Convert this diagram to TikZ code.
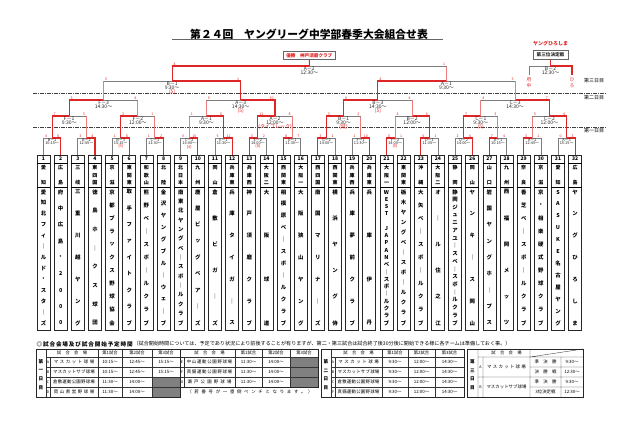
\documentclass[tikz,border=0pt]{standalone}
\usepackage{fontspec}
\setmainfont{Noto Sans CJK JP}
\usetikzlibrary{positioning,calc}
\definecolor{winred}{RGB}{222,38,38}
\definecolor{palered}{RGB}{236,125,125}
\definecolor{losegray}{RGB}{125,125,125}
\newcommand{\fs}[1]{\fontsize{#1}{#1}\selectfont}

\ExplSyntaxOn
\int_new:N \l_vt_n_int
\int_new:N \l_vt_i_int
\tl_new:N \l_vt_s_tl
\tl_new:N \l_vt_y_tl
% vertical text, chars spread evenly from top y over span
\NewDocumentCommand \vtext { O{namech} m m m m m }
  {
    \tl_set:Nx \l_vt_s_tl {#6}
    \int_set:Nn \l_vt_n_int { \tl_count:N \l_vt_s_tl }
    \int_zero:N \l_vt_i_int
    \tl_map_inline:Nn \l_vt_s_tl
      {
        \tl_set:Nx \l_vt_y_tl
          { \fp_eval:n { #4 + \int_use:N \l_vt_i_int * (#5) / (\int_use:N \l_vt_n_int - 1) } }
        \int_incr:N \l_vt_i_int
        \node [#1] (#2 - \int_use:N \l_vt_i_int) at (#3, \l_vt_y_tl) {##1};
      }
  }
\NewDocumentCommand \spread { m m }
  {
    \tl_set:Nx \l_vt_s_tl {#2}
    \hbox_to_wd:nn {#1} { \tl_map_inline:Nn \l_vt_s_tl { \hfil ##1 \hfil } }
  }
\ExplSyntaxOff

% one game: left child, right child, centre, winner side, loser line, scores
\newcommand{\bout}[7]{%
  \if L#4
    \draw[#5] (#2) -- (#2 |- #3);
    \draw[lose] (#2 |- #3) -- (#3);
    \draw[win] (#1) |- (#3);
  \else
    \draw[#5] (#1) -- (#1 |- #3);
    \draw[lose] (#1 |- #3) -- (#3);
    \draw[win] (#2) |- (#3);
  \fi
  \path (#1 |- #3) node[score, anchor=south west, xshift=1pt] (s-#3-l) {#6}
        (#2 |- #3) node[score, anchor=south east, xshift=-1pt] (s-#3-r) {#7};}
\newcommand{\blabel}[4]{%
  \node[#4, below=0.2pt of #1] (c-#1) {#2};
  \node[#4, below=-0.6pt of c-#1] (m-#1) {#3};}

\tikzset{
  win/.style={draw=winred, line width=1.1pt},
  lose/.style={draw=losegray, line width=0.7pt},
  pale/.style={draw=palered, line width=1pt},
  score/.style={font=\fs{3.6}, text=winred, inner sep=0.3pt},
  lab1/.style={font=\fs{3.9}, inner sep=0.2pt, text=black!85},
  lab2/.style={font=\fs{5}, inner sep=0.2pt, text=black!85},
  tbox/.style={draw=black!85, line width=0.8pt, minimum width=13pt,
    minimum height=175pt, inner sep=0, anchor=north},
  tnum/.style={font=\fs{5}\bfseries, inner sep=0},
  namech/.style={font=\fs{5.4}\bfseries, inner sep=0},
  prefch/.style={font=\fs{5}\bfseries, inner sep=0},
  tpch/.style={font=\fs{4.8}, text=winred, inner sep=0},
  daych/.style={font=\fs{4.6}\bfseries, inner sep=0},
  dayline/.style={line width=0.9pt, black!75, dash pattern=on 4pt off 1pt on 1pt off 1pt},
  daylab/.style={font=\fs{5}, inner sep=0},
  champbox/.style={draw=black!60, line width=0.6pt, text=winred, font=\fs{4.6}\bfseries,
    minimum width=52pt, minimum height=8.5pt, inner sep=0.5pt},
  tthick/.style={line width=0.9pt, black!85},
  tthin/.style={line width=0.35pt, black!80},
  thead/.style={font=\fs{4.3}, inner sep=0},
  tcell/.style={font=\fs{4.4}, inner sep=0},
  tlet/.style={font=\fs{3.6}, inner sep=0},
}

\begin{document}
\begin{tikzpicture}[x=1pt,y=-1pt]
\useasboundingbox (0,0) rectangle (640,426);

\node[font=\fs{10.8}\bfseries, inner sep=0] (title) at (309,34) {第２４回　ヤングリーグ中学部春季大会組合せ表};
\draw[line width=1.3pt, black!60] (172,39.5) -- (443,39.5);

% teams
\foreach \i/\pf/\nm in {1/愛知/愛知北フィ｜ルド・スタ｜ズ, 2/広島/府中広島・2000,
  3/三岐/三重川越ヤング, 4/東四国/徳島ホ｜クス球団, 5/京滋/京都ブラックス野球協会,
  6/東関東/取手ファイトクラブ, 7/和歌山/熊野ベ｜スボ｜ルクラブ,
  8/北陸/金沢ヤングブル｜ウェ｜ブ, 9/北日本/南東北ヤングベ｜スボ｜ルクラブ,
  10/九州/鹿屋ビッグベア｜ズ, 11/岡山/倉敷ビガ｜ズ, 12/兵庫東/兵庫タイガ｜ス,
  13/兵庫西/神戸須磨クラブ, 14/大阪二/大阪球道, 15/西関東/相模原ベ｜スボ｜ルクラブ,
  16/大阪一/大阪狭山ヤング, 17/西四国/南国マリナ｜ズ, 18/西関東/横浜ヤング侍,
  19/兵庫西/兵庫夢前クラブ, 20/兵庫東/兵庫伊丹, 21/大阪一/WEST　JAPANベ｜スボ｜ルクラブ,
  22/東関東/栃木ヤングベ｜スボ｜ルクラブ, 23/沖縄/大矢ベ｜スボ｜ルクラブ,
  24/大阪二/オ｜ル住之江, 25/静岡/静岡ジュニアユ｜スベ｜スボ｜ルクラブ,
  26/岡山/ヤンキ｜ス岡山, 27/山口/岩国ヤングホ｜プス, 28/九州/西福岡メッツ,
  29/奈良/香芝ベ｜スボ｜ルクラブ, 30/京滋/京・相楽硬式野球クラブ,
  31/愛知/SASUKE名古屋ヤング, 32/広島/ヤングひろしま}{
  \pgfmathsetmacro\x{43.5+(\i-1)*17.15}
  \node[tbox] (t\i) at (\x,155) {};
  \draw[line width=0.5pt] ([yshift=-8pt]t\i.north west) -- ([yshift=-8pt]t\i.north east)
    ([yshift=-32pt]t\i.north west) -- ([yshift=-32pt]t\i.north east);
  \node[tnum] (no\i) at (\x,159) {\i};
  \vtext[prefch]{pf\i}{\x}{167.5}{15.5}{\pf}
  \vtext{nm\i}{\x}{192}{131}{\nm}
}

% day lines
\draw[dayline] (33,93) -- (607,93);
\draw[dayline] (33,127) -- (607,127);
\node[daylab] (day3) at (594,81) {第三日目};
\node[daylab] (day2) at (594,98) {第二日目};
\node[daylab] (day1) at (594,131) {第一日目};

% first round
\foreach \k/\w/\sl/\sr/\cd/\tm in {1/R/4/8/B－1/10:15～, 2/R/3/4/B－2/12:45～,
  3/R/1/8/B－3/15:15～, 4/R/1/2/C－1/11:30～, 5/R/0/10/C－2/14:00～, 6/R/5/11/E－1/11:30～,
  7/L/3/2/E－2/14:00～, 8/L/8/7/G－1/11:30～, 9/L/3/2/G－2/14:00～, 10/R/1/10/F－1/11:30～,
  11/L/8/1/F－2/14:00～, 12/L/6/1/D－1/11:30～, 13/R/2/4/D－2/14:00～, 14/L/7/4/A－1/10:15～,
  15/L/3/1/A－2/12:45～, 16/R/0/3/A－3/15:15～}{
  \pgfmathtruncatemacro\ka{2*\k-1}
  \pgfmathtruncatemacro\kb{2*\k}
  \path ($(t\ka.north)!.5!(t\kb.north)$) ++(0,-17) coordinate (r1-\k);
  \bout{t\ka.north}{t\kb.north}{r1-\k}{\w}{lose}{\sl}{\sr}
  \blabel{r1-\k}{\cd}{\tm}{lab1}
}
% second round
\foreach \k/\w/\sl/\sr/\cd/\tm in {1/L/7/3/F－1/9:30～, 2/L/3/1/F－2/12:00～,
  3/R/1/5/A－1/9:30～, 4/L/11/8/A－2/12:00～, 5/L/3/2/B－1/9:30～, 6/R/4/6/B－2/12:00～,
  7/L/7/3/C－1/9:30～, 8/R/3/4/C－2/12:00～}{
  \pgfmathtruncatemacro\ka{2*\k-1}
  \pgfmathtruncatemacro\kb{2*\k}
  \path ($(r1-\ka)!.5!(r1-\kb)$) ++(0,-22) coordinate (r2-\k);
  \bout{r1-\ka}{r1-\kb}{r2-\k}{\w}{pale}{\sl}{\sr}
  \blabel{r2-\k}{\cd}{\tm}{lab2}
}
% third round
\foreach \k/\w/\sl/\sr/\cd/\tm in {1/L/5/4/F－3/14:30～, 2/R/6/10/A－3/14:30～,
  3/L/6/4/B－3/14:30～, 4/R/4/7/C－3/14:30～}{
  \pgfmathtruncatemacro\ka{2*\k-1}
  \pgfmathtruncatemacro\kb{2*\k}
  \path ($(r2-\ka)!.5!(r2-\kb)$) ++(0,-16) coordinate (r3-\k);
  \bout{r2-\ka}{r2-\kb}{r3-\k}{\w}{pale}{\sl}{\sr}
  \blabel{r3-\k}{\cd}{\tm}{lab2}
}
% semi finals
\foreach \k/\w/\sl/\sr/\cd/\tm in {1/R/0/1/B－1/9:30～, 2/L/4/3/A－1/9:30～}{
  \pgfmathtruncatemacro\ka{2*\k-1}
  \pgfmathtruncatemacro\kb{2*\k}
  \path ($(r3-\ka)!.5!(r3-\kb)$) ++(0,-19) coordinate (r4-\k);
  \bout{r3-\ka}{r3-\kb}{r4-\k}{\w}{pale}{\sl}{\sr}
  \blabel{r4-\k}{\cd}{\tm}{lab2}
}
% final
\path ($(r4-1)!.5!(r4-2)$) ++(0,-15) coordinate (r5);
\bout{r4-1}{r4-2}{r5}{L}{pale}{4}{1}
\blabel{r5}{A－2}{12:30～}{lab2}
\node[champbox] (champ) at (309.3,55.5) {優勝　神戸須磨クラブ};
\draw[win] (r5) -- (champ);

% red notes under games
\node[lab1, text=winred, below=-0.6pt of m-r1-3] (x-r1-3) {(5)};
\node[lab1, text=winred, below=-0.6pt of m-r1-5] (x-r1-5) {(4)};
\node[lab1, text=winred, below=-0.6pt of m-r1-7] (x-r1-7) {(8)};
\node[lab1, text=winred, below=-0.6pt of m-r1-11] (x-r1-11) {(5)};
\node[lab2, text=winred, below=-0.6pt of m-r2-4] (x-r2-4) {(タイブレーク)};
\node[lab2, text=winred, below=-0.6pt of m-r2-5] (x-r2-5) {(延)};
\node[lab2, text=winred, below=-0.6pt of m-r2-7] (x-r2-7) {(5)};
\node[lab2, text=winred, below=-0.6pt of m-r3-2] (x-r3-2) {(5)};
\node[lab2, text=winred, below=-0.6pt of m-r3-3] (x-r3-3) {(5)};
\node[lab2, text=winred, below=-0.6pt of m-r4-1] (x-r4-1) {(5)};

% third place
\node[font=\fs{5}\bfseries, text=winred, inner sep=0] (thirdwin) at (550.5,43.5) {ヤングひろしま};
\node[champbox, text=black!85, minimum width=35pt] (third) at (550.5,55) {第三位決定戦};
\coordinate (tp) at (550.5,66);
\coordinate (tp-l) at (529,75);
\coordinate (tp-r) at (572,75);
\draw[lose] (tp-l) |- (tp);
\draw[win] (tp-r) |- (tp) -- (third);
\blabel{tp}{B－2}{12:30～}{lab2}
\vtext[tpch]{fu}{529}{80}{6}{府中}
\vtext[tpch]{hi}{572}{80}{6}{ひろ}

% venue tables
\node[font=\fs{5.6}\bfseries, anchor=west, inner sep=0] (hd1) at (36,344) {\spread{97pt}{◎試合会場及び試合開始予定時間}};
\node[font=\fs{5.1}, inner sep=0, right=0pt of hd1] (hd2) {（試合開始時間については、予定であり状況により前後することが有りますが、第二・第三試合は試合終了後30分後に開始できる様に各チームは準備しておく事。）};

\fill[black!50] (152,377) rectangle (180,397) (290,357) rectangle (318,387);
\draw[tthin] (46,357) -- (180,357) (46,367) -- (180,367) (46,377) -- (180,377) (46,387) -- (180,387)
  (46,349) -- (46,397) (50,357) -- (50,397) (98,349) -- (98,397) (122,349) -- (122,397) (152,349) -- (152,397);
\draw[tthick] (36,349) rectangle (180,397);
\draw[tthin] (180,357) -- (318,357) (180,367) -- (318,367) (180,377) -- (318,377)
  (184,357) -- (184,387) (235,349) -- (235,387) (262,349) -- (262,387) (290,349) -- (290,387);
\draw[tthick] (180,349) rectangle (318,387);
\draw[tthin] (331,357) -- (464,357) (331,367) -- (464,367) (331,377) -- (464,377) (331,387) -- (464,387)
  (331,349) -- (331,397) (335,357) -- (335,397) (382,349) -- (382,397) (408,349) -- (408,397) (435,349) -- (435,397);
\draw[tthick] (321,349) rectangle (464,397);
\draw[tthin] (478,357) -- (583,357) (478,377) -- (583,377) (530,367) -- (583,367) (530,387) -- (583,387)
  (478,349) -- (478,397) (483,357) -- (483,397) (530,349) -- (530,397) (561,357) -- (561,397) (530,357) -- (583,349);
\draw[tthick] (467,349) rectangle (583,397);

\foreach \c/\xx/\tx in {1/72/試　合　会　場, 2/110/第1試合, 3/137/第2試合, 4/166/第3試合,
  5/209.5/試　合　会　場, 6/248.5/第1試合, 7/276/第2試合, 8/304/第3試合,
  9/358.5/試　合　会　場, 10/395/第1試合, 11/421.5/第2試合, 12/449.5/第3試合, 13/506.5/試　合　会　場}
  \node[thead] (h\c) at (\xx,353) {\tx};

\vtext[daych]{d1}{41}{362}{26}{第一日目}
\vtext[daych]{d2}{326}{362}{26}{第二日目}
\vtext[daych]{d3}{472.5}{362}{26}{第三日目}

\foreach \r/\yy/\lt/\vn/\ta/\tb in {1/362/A/マスカット球場/10:15～/12:45～,
  2/372/B/マスカットサブ球場/10:15～/12:45～, 3/382/C/倉敷運動公園野球場/11:30～/14:00～,
  4/392/D/岡山県営野球場/11:30～/14:00～}{
  \node[tlet] (a-l\r) at (48,\yy) {\lt};
  \node[tcell] (a-v\r) at (74,\yy) {\spread{42pt}{\vn}};
  \node[tcell] (a-p\r) at (110,\yy) {\ta};
  \node[tcell] (a-q\r) at (137,\yy) {\tb};
}
\node[tcell] (a-s1) at (166,362) {15:15～};
\node[tcell] (a-s2) at (166,372) {15:15～};
\foreach \r/\yy/\lt/\vn in {1/362/E/中山運動公園野球場, 2/372/F/真備運動公園野球場, 3/382/G/瀬戸公園野球場}{
  \node[tlet] (e-l\r) at (182,\yy) {\lt};
  \node[tcell] (e-v\r) at (209.5,\yy) {\spread{46pt}{\vn}};
  \node[tcell] (e-p\r) at (248.5,\yy) {11:30～};
  \node[tcell] (e-q\r) at (276,\yy) {14:00～};
}
\node[tcell] (note) at (250,392) {\spread{128pt}{（若番号が一塁側ベンチとなります。）}};

\foreach \r/\yy/\lt/\vn in {1/362/A/マスカット球場, 2/372/B/マスカットサブ球場,
  3/382/C/倉敷運動公園野球場, 4/392/F/真備運動公園野球場}{
  \node[tlet] (b-l\r) at (333,\yy) {\lt};
  \node[tcell] (b-v\r) at (358.5,\yy) {\spread{42pt}{\vn}};
  \node[tcell] (b-p\r) at (395,\yy) {9:30～};
  \node[tcell] (b-q\r) at (421.5,\yy) {12:00～};
  \node[tcell] (b-s\r) at (449.5,\yy) {14:30～};
}

\node[tlet] (c-la) at (480.5,367) {A};
\node[tlet] (c-lb) at (480.5,387) {B};
\node[tcell] (c-va) at (506.5,367) {\spread{40pt}{マスカット球場}};
\node[tcell] (c-vb) at (506.5,387) {\spread{40pt}{マスカットサブ球場}};
\foreach \r/\yy/\gm/\tm in {1/362/準　決　勝/9:30～, 2/372/決　勝　戦/12:30～,
  3/382/準　決　勝/9:30～, 4/392/3位決定戦/12:30～}{
  \node[tcell] (c-g\r) at (545.5,\yy) {\gm};
  \node[tcell] (c-t\r) at (572,\yy) {\tm};
}
\end{tikzpicture}
\end{document}
